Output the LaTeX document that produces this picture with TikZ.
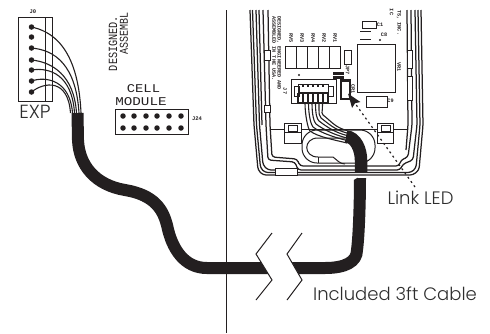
\documentclass[tikz,border=0pt]{standalone}
\usepackage{fontspec}
\usetikzlibrary{arrows.meta}
\setmainfont{Poppins Light}
\newfontfamily\monof{Liberation Mono}
\definecolor{ink}{HTML}{231F20}
\definecolor{txt}{HTML}{2E2E2E}
\tikzset{
 thinl/.style={draw=ink,line width=0.9pt},
 board/.style={draw=ink,line width=1pt},
 wall/.style={draw=ink,line width=1.25pt,rounded corners=3pt},
 wire/.style={draw=ink,line width=1.1pt},
 cable/.style={draw=ink,line width=12pt},
 pin/.style={circle,fill=ink,inner sep=0pt,minimum size=5.5pt},
 sans/.style={text=txt,inner sep=0pt,font=\fontsize{18}{19}\selectfont},
 stencil/.style={text=ink,inner sep=0pt,font=\monof\fontsize{10}{11}\selectfont},
 tiny/.style={text=ink,inner sep=0pt,font=\monof\bfseries\fontsize{5.2}{5.5}\selectfont},
 tinyr/.style={tiny,rotate=-90},
 lbl/.style={text=ink,inner sep=0pt,font=\monof\bfseries\fontsize{5.5}{6}\selectfont},
}
\begin{document}
\begin{tikzpicture}[x=1pt,y=-1pt]
\useasboundingbox (0,0) rectangle (490,333);
% divider
\draw[thinl,line width=1pt] (226,10) -- (226,333);
% left connector
\draw[thinl] (18,17) rectangle (52,101);
\draw[thinl] (45,17) -- (45,101);
\node[lbl] (j0) at (33,12) {J0};
\foreach \n/\y in {a/27,b/37,c/48,d/60,e/70,f/81,g/92}{
  \node[pin] (p\n) at (31.5,\y) {};
}
\coordinate (ca) at (81,113);
\coordinate (cc) at (79,113);
\coordinate (cd) at (76.5,113);
\coordinate (ce) at (74.5,113);
\coordinate (cf) at (72.5,113);
\coordinate (cg) at (70.5,113);
\draw[wire] (pa.center) .. controls (50,31) and (78,45) .. (ca);
\draw[wire] (pc.center) .. controls (55,50) and (76,65) .. (cc);
\draw[wire] (pd.center) .. controls (52,62) and (74,75) .. (cd);
\draw[wire] (pe.center) .. controls (50,67) and (72,75) .. (ce);
\draw[wire] (pf.center) .. controls (46,76) and (70,80) .. (cf);
\draw[wire] (pg.center) .. controls (44,82) and (68,78) .. (cg);
\node[text=txt,inner sep=0pt,font=\fontsize{19}{20}\selectfont] (exp) at (35,111.5) {EXP};
% stencil text
\node[stencil,rotate=90] (des) at (113,43.5) {\scalebox{1.02}[1.25]{DESIGNED.}};
\node[stencil,rotate=90] (ass) at (124,33.5) {\scalebox{1}[1.2]{ASSEMBL}};
\node[stencil,font=\monof\fontsize{9.5}{11}\selectfont] (cell) at (143.5,89) {\scalebox{1.45}[1.25]{CELL}};
\node[stencil,font=\monof\fontsize{9.5}{11}\selectfont] (mod) at (141,101.5) {\scalebox{1.5}[1.25]{MODULE}};
% J24
\draw[thinl,line width=1pt] (115,109) rectangle (188,134);
\foreach \x in {123,134,146,157,169,181}{
  \node[pin] at (\x,116) {};
  \node[pin] at (\x,128) {};
}
\node[lbl] (j24) at (197,119) {J24};
% cable, left part
\begin{scope}
\clip (0,0) -- (240,228) -- (284,300) -- (0,333) -- cycle;
\draw[cable] (77.5,113) -- (78,140) .. controls (79,165) and (95,185) .. (125,190) .. controls (155,195) and (163,210) .. (167,225) .. controls (172,250) and (185,268) .. (207,268) -- (280,268);
\end{scope}
% cable, right part
\begin{scope}
\clip (272,228) -- (314,300) -- (490,300) -- (490,100) -- cycle;
\draw[cable] (280,268) -- (325,268) .. controls (345,268) and (357,262) .. (357,250) .. controls (359,235) and (360,200) .. (360,178);
\end{scope}
% break marks
\draw[thinl,line width=1pt] (272,233) -- (256,254) -- (272,280) -- (256,300);
\draw[thinl,line width=1pt] (302,233) -- (287,254) -- (302,280) -- (287,300);
% enclosure walls
\draw[wall] (250,10) -- (254,125) -- (258,170) -- (263,175) -- (413,175) -- (419,170) -- (423,125) -- (421,10);
\draw[wall] (252.5,10) -- (256.5,125) -- (260.5,168) -- (265,172.5) -- (411,172.5) -- (416,168) -- (420,125) -- (418,10);
\draw[wall] (256,10) -- (259.5,125) -- (263,165) -- (268,170) -- (275,170);
\draw[wall] (259,10) -- (262,125);
\draw[wall] (263,10) -- (266,125) -- (268,160) -- (295,162) -- (298,170) -- (400,170) -- (403,164) -- (413,160) -- (417,125) -- (415,10);
\draw[wall] (268,10) -- (270,125) -- (272,157) -- (297,159) -- (300,166) -- (399,166) -- (401,160) -- (408,157) -- (412,125) -- (411,10);
\draw[wall] (407,10) -- (408,125) -- (406,150);
\draw[board,fill=white] (264,105) rectangle (270,112);
\draw[board,fill=white] (264,50) rectangle (270,60);
\draw[board,fill=white] (407,50) rectangle (412,68);
\draw[board,fill=white] (407,76) rectangle (412,100);
\draw[board,fill=white] (275,168) rectangle (297,175);
% inner floor
\draw[thinl] (270,129) -- (408,129);
\draw[board,fill=white] (284,123) rectangle (301,143);
\draw[board] (284,132) -- (301,132);
\draw[board] (288,125) rectangle (297,131);
\draw[board,fill=white] (377,123) rectangle (393,143);
\draw[board] (377,132) -- (393,132);
\draw[board] (381,125) rectangle (390,131);
% oval cut-out
\draw[board,rounded corners=15pt] (302,130) rectangle (375,163);
\draw[board] (345,138) -- (318,138) .. controls (303,138) and (303,157) .. (318,157) -- (333,157) .. controls (337,160) and (340,164) .. (345,164);
\draw[board] (318,157) -- (318,163);
% board parts
\draw[board] (285,46) rectangle (340,68);
\foreach \x in {296,307,318,329}{\draw[board] (\x,46) -- (\x,68);}
\node[tinyr] (rv5) at (291,38) {RV5};
\node[tinyr] (rv3) at (302,38) {RV3};
\node[tinyr] (rv4) at (313,38) {RV4};
\node[tinyr] (rv2) at (324,38) {RV2};
\node[tinyr] (rv1) at (335,38) {RV1};
\draw[board] (344,50) rectangle (351,64);
\node[tinyr] (jp7) at (347.5,70) {JP7};
\draw[board] (357,44) rectangle (395,92);
\node[tinyr] (vr1) at (399,67) {VR1};
\draw[board] (362,21) rectangle (376,28);
\node[tiny] (c1) at (380,24.5) {C1};
\draw[board] (360,31) -- (371,31);
\draw[board] (360,39) -- (371,39);
\fill[ink] (380,40) circle (1.2pt);
\node[tiny] (c8) at (384,35) {C8};
\draw[board] (366,96) rectangle (387,107);
\node[tiny] (c9) at (390.5,101) {C9};
\draw[board,line width=1.1pt] (341,80) rectangle (350,99);
\draw[board,line width=1.8pt] (341,81) -- (350,81);
\node[tinyr] (cr1) at (353,89) {CR1};
\fill[ink] (333,72) rectangle (344,79);
\draw[white,line width=0.4pt] (333,75.5) -- (344,75.5);
% J7
\draw[board] (291,79) rectangle (336,103);
\draw[board] (298,84) rectangle (328,103);
\draw[board] (294,86) rectangle (299,96);
\draw[board] (328,86) rectangle (333,96);
\draw[ink,line width=1.3pt] (298,93) -- (328,93) (298,93) -- (298,103) -- (328,103) -- (328,93);
\foreach \x in {303,308,313,318,323}{
  \draw[ink,line width=1.2pt] (\x,93) -- (\x,103);
  \draw[ink,line width=1.2pt] (\x,85) -- (\x,87);
}
\node[tinyr] (j7) at (285,91) {J7};
\fill[ink] (299,75) circle (1.2pt);
\node[tinyr,font=\monof\bfseries\fontsize{5.1}{5.5}\selectfont,anchor=west] (usa1) at (279,16) {DESIGNED, ENGINEERED AND};
\node[tinyr,font=\monof\bfseries\fontsize{5.1}{5.5}\selectfont,anchor=west] (usa2) at (274,16) {ASSEMBLED IN THE USA.};
\node[tinyr,anchor=west] (inc) at (399,10) {TS, INC.};
\node[tinyr] (ic) at (391.5,12) {IC};
% wires in enclosure
\foreach \i/\sx/\mx/\my/\ey in {0/305/310/135/143,1/308.5/313/131/140.5,2/312/316/128/138,3/315.5/319/125/135.5,4/319/321/122/133,5/322.5/323/119/130.5}{
  \draw[wire] (\sx,103) .. controls (\sx,115) and (\mx-2,\my-6) .. (\mx,\my-4) .. controls (\mx+8,\my+2) and (335,\ey-3) .. (347,\ey);
}
\draw[cable,line width=12.5pt] (346,136.5) .. controls (356,137) and (361,150) .. (361,160) -- (361,172);
% leader
\coordinate (ledend) at (415,187);
\coordinate (ledtip) at (348,93.5);
\draw[draw=ink,line width=1.2pt,dash pattern=on 2pt off 3.2pt,-{Stealth[length=14pt,width=10pt,inset=2pt]}] (ledend) -- (ledtip);
% labels
\node[sans] (link) at (420.5,197.5) {Link LED};
\node[sans] (incl) at (395,294) {Included 3ft Cable};
\end{tikzpicture}
\end{document}
